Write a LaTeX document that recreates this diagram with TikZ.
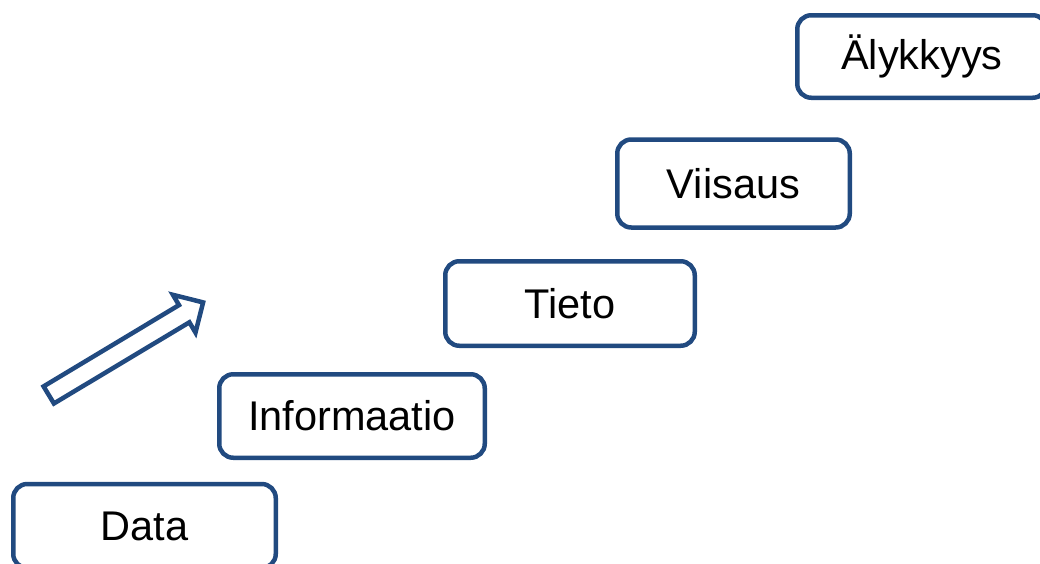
\documentclass[tikz,border=0pt]{standalone}
\usepackage{fontspec}
\setmainfont{Liberation Sans}
\definecolor{stepblue}{RGB}{33,74,128}
\begin{document}
\begin{tikzpicture}[x=1pt,y=-1pt,
  stepbox/.style={draw=stepblue, line width=4.5pt, rounded corners=14pt,
    fill=white, inner sep=0pt, font=\fontsize{41.5}{50}\selectfont},
  ]
  \useasboundingbox (0,0) rectangle (1040,563);
  \clip (0,0) rectangle (1040,563);

  % the five steps of the staircase
  \node[stepbox, minimum width=262.5pt, minimum height=84pt] (data) at (144.5,526) {Data};
  \node[stepbox, minimum width=265.5pt, minimum height=83.5pt] (info) at (352,416) {Informaatio};
  \node[stepbox, minimum width=249.5pt, minimum height=84.5pt] (tieto) at (570,303.5) {Tieto};
  \node[stepbox, minimum width=232.5pt, minimum height=88pt] (viisaus) at (733.5,183.5) {Viisaus};
  \node[stepbox, minimum width=249.5pt, minimum height=82.5pt] (aly) at (922,56.5) {Älykkyys};

  % hollow arrow pointing up the stairs
  \draw[stepblue, line width=4.5pt, fill=white]
    (43.6,386.4) -- (179.0,305.1) -- (172.9,294.8) -- (203.1,302.4)
    -- (195.5,332.6) -- (189.4,322.3) -- (53.9,403.5) -- cycle;
\end{tikzpicture}
\end{document}
